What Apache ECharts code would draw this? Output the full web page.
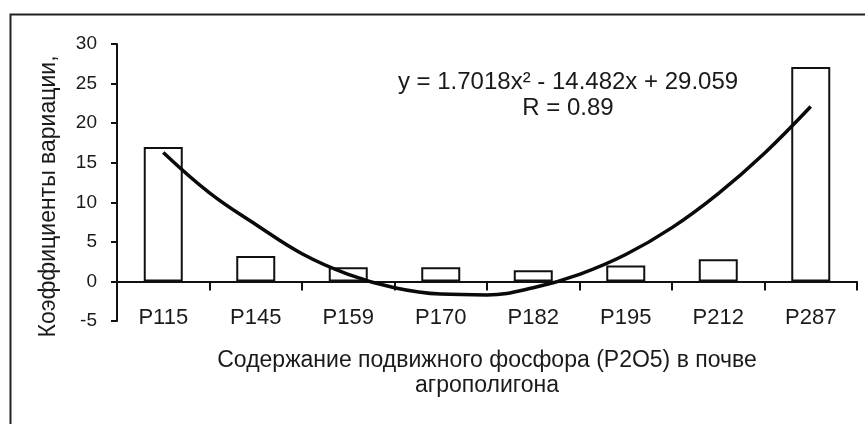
<!DOCTYPE html>
<html>
<head>
<meta charset="utf-8">
<script src="https://cdn.jsdelivr.net/npm/echarts@6/dist/echarts.min.js"></script>
<style>html,body{margin:0;padding:0;background:#fff;}#c{width:865px;height:424px;}</style>
</head>
<body>
<div id="c"></div>
<script>
var categories = ['P115', 'P145', 'P159', 'P170', 'P182', 'P195', 'P212', 'P287'];
var cvValues = [17.0, 3.2, 1.8, 1.8, 1.4, 2.0, 2.8, 27.1];
// trend curve at half-category steps (category 1..8)
var trendX = [1, 1.5, 2, 2.5, 3, 3.5, 4, 4.5, 5, 5.5, 6, 6.5, 7, 7.5, 8];
var trendY = [16.3, 11.2, 7.2, 3.5, 0.9, -0.8, -1.6, -1.7, -0.8, 0.9, 3.4, 6.8, 11.1, 16.2, 22.1];
var yTicks = { min: -5, max: 30, interval: 5 };
var yName = 'Коэффициенты вариации,';
var xName = 'Содержание подвижного фосфора (P2O5) в почве\nагрополигона';
var equationText = 'y = 1.7018x² - 14.482x + 29.059';
var rText = 'R = 0.89';

var FONT = '"Liberation Sans", Arial, sans-serif';
var trendData = trendX.map(function (x, i) { return [x, trendY[i]]; });
var chart = echarts.init(document.getElementById('c'), null, { renderer: 'canvas' });
chart.setOption({
  animation: false,
  backgroundColor: '#ffffff',
  grid: { left: 117, right: 8, top: 44, bottom: 103, containLabel: false, outerBoundsMode: 'none' },
  xAxis: [{
    type: 'category',
    data: categories,
    boundaryGap: true,
    axisLine: { onZero: true, lineStyle: { color: '#111', width: 2 } },
    axisTick: { show: true, length: 9, lineStyle: { color: '#111', width: 2 } },
    axisLabel: { margin: -14, fontSize: 22, color: '#1a1a1a', fontFamily: FONT },
    name: xName,
    nameLocation: 'middle',
    nameGap: 27,
    nameTextStyle: { fontSize: 23, color: '#1a1a1a', fontFamily: FONT, lineHeight: 25 },
    splitLine: { show: false }
  }, {
    type: 'value',
    min: 0.5,
    max: 8.5,
    show: false,
    splitLine: { show: false }
  }],
  yAxis: {
    type: 'value',
    min: yTicks.min,
    max: yTicks.max,
    interval: yTicks.interval,
    axisLine: { show: true, onZero: false, lineStyle: { color: '#111', width: 2 } },
    axisTick: { show: true, length: 6, lineStyle: { color: '#111', width: 2 } },
    axisLabel: { margin: 20, fontSize: 19, color: '#1a1a1a', fontFamily: FONT },
    splitLine: { show: false },
    name: yName,
    nameLocation: 'middle',
    nameGap: 57,
    nameRotate: 90,
    nameTextStyle: { fontSize: 23, color: '#1a1a1a', fontFamily: FONT, padding: [0, 28, 0, 0] }
  },
  series: [
    {
      type: 'bar',
      data: cvValues,
      barWidth: 39,
      itemStyle: { color: '#ffffff', borderColor: '#111', borderWidth: 2 },
      z: 2
    },
    {
      type: 'line',
      xAxisIndex: 1,
      data: trendData,
      smooth: 0.4,
      showSymbol: false,
      symbol: 'none',
      lineStyle: { color: '#0a0a0a', width: 3.5 },
      z: 3
    }
  ],
  graphic: [
    {
      type: 'rect',
      left: 8, top: 12,
      shape: { x: 0, y: 0, width: 880, height: 440 },
      style: { fill: 'none', stroke: '#222', lineWidth: 2 },
      silent: true
    },
    {
      type: 'text',
      x: 568, y: 82,
      style: { text: equationText, font: '24px ' + FONT, fill: '#1a1a1a', textAlign: 'center', textVerticalAlign: 'middle' }
    },
    {
      type: 'text',
      x: 568, y: 108,
      style: { text: rText, font: '24px ' + FONT, fill: '#1a1a1a', textAlign: 'center', textVerticalAlign: 'middle' }
    }
  ]
});
</script>
</body>
</html>
